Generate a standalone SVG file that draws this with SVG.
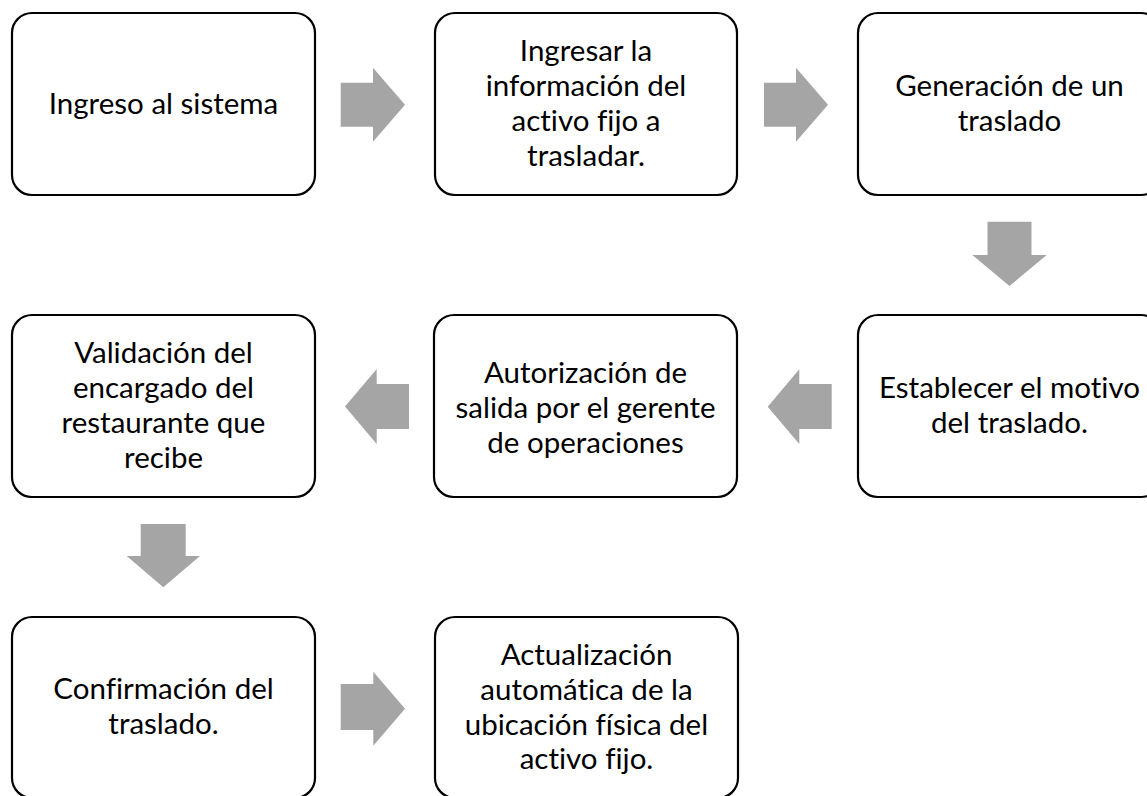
<svg xmlns="http://www.w3.org/2000/svg" width="1147" height="796" viewBox="0 0 1147 796">
<style>
.box{fill:#fff;stroke:#000;stroke-width:2.2}
.lbl{font-family:Lato,"Liberation Sans",sans-serif;font-size:29.5px;fill:#000;text-anchor:middle;font-variant-ligatures:none}
.arr{fill:#A5A5A5}
</style>
<rect width="1147" height="796" fill="#fff"/>
<g id="connectors">
<path class="arr" d="M340.7,82.7 H373 V67.7 L405,104.7 L373,141.7 V126.7 H340.7 Z"/>
<path class="arr" d="M764,82.7 H796 V67.7 L828,104.7 L796,141.7 V126.7 H764 Z"/>
<path class="arr" d="M987.5,221.7 H1031.5 V255 H1046.7 L1009.5,286 L972.3,255 H987.5 Z"/>
<path class="arr" d="M831.7,384 H799.3 V369.3 L767.7,406.7 L799.3,444 V429 H831.7 Z"/>
<path class="arr" d="M409,384 H376.7 V369 L345,406.5 L376.7,444 V429 H409 Z"/>
<path class="arr" d="M140.7,524 H185.7 V556 H200 L163.3,587.3 L126.7,556 H140.7 Z"/>
<path class="arr" d="M340.7,684 H373.3 V671.7 L405,708.7 L373.3,745.7 V730 H340.7 Z"/>
</g>
<g id="n1"><rect class="box" x="12" y="13" width="303" height="182" rx="20"/>
<text class="lbl" x="163.5" y="114">Ingreso al sistema</text></g>
<g id="n2"><rect class="box" x="435" y="13" width="302" height="182" rx="20"/>
<text class="lbl" x="586" y="61.3">Ingresar la</text>
<text class="lbl" x="586" y="96.1">información del</text>
<text class="lbl" x="586" y="130.9">activo fijo a</text>
<text class="lbl" x="586" y="165.7">trasladar.</text></g>
<g id="n3"><rect class="box" x="858" y="13" width="303" height="182" rx="20"/>
<text class="lbl" x="1009.5" y="96">Generación de un</text>
<text class="lbl" x="1009.5" y="130.8">traslado</text></g>
<g id="n4"><rect class="box" x="858" y="315" width="303" height="182" rx="20"/>
<text class="lbl" x="1009.5" y="398.1">Establecer el motivo</text>
<text class="lbl" x="1009.5" y="432.9">del traslado.</text></g>
<g id="n5"><rect class="box" x="434" y="315" width="303" height="182" rx="20"/>
<text class="lbl" x="585.5" y="383">Autorización de</text>
<text class="lbl" x="585.5" y="417.8">salida por el gerente</text>
<text class="lbl" x="585.5" y="452.6">de operaciones</text></g>
<g id="n6"><rect class="box" x="12" y="315" width="303" height="182" rx="20"/>
<text class="lbl" x="163.5" y="363.3">Validación del</text>
<text class="lbl" x="163.5" y="398.1">encargado del</text>
<text class="lbl" x="163.5" y="432.9">restaurante que</text>
<text class="lbl" x="163.5" y="467.7">recibe</text></g>
<g id="n7"><rect class="box" x="12" y="617" width="303" height="181" rx="20"/>
<text class="lbl" x="163.5" y="699">Confirmación del</text>
<text class="lbl" x="163.5" y="733.8">traslado.</text></g>
<g id="n8"><rect class="box" x="435" y="617" width="303" height="181" rx="20"/>
<text class="lbl" x="586.5" y="665">Actualización</text>
<text class="lbl" x="586.5" y="699.8">automática de la</text>
<text class="lbl" x="586.5" y="734.6">ubicación física del</text>
<text class="lbl" x="586.5" y="769.4">activo fijo.</text></g>
</svg>
